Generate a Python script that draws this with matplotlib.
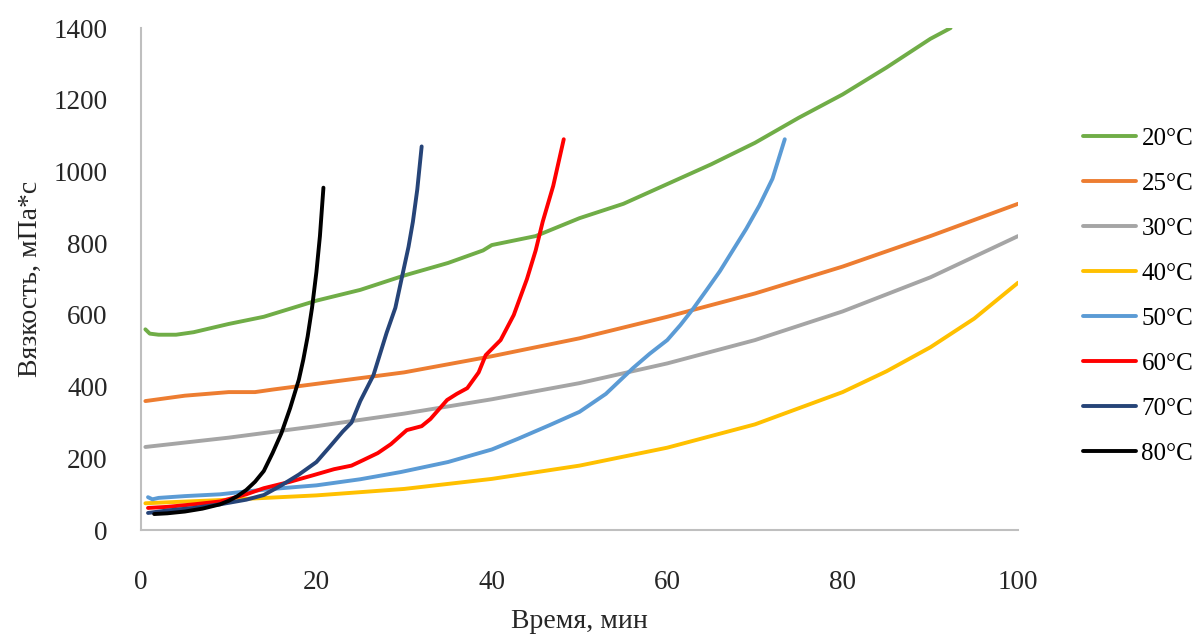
import matplotlib
matplotlib.use("Agg")
import matplotlib.pyplot as plt

plt.rcParams['font.family'] = ['Liberation Serif', 'DejaVu Serif']

# Data (time, min -> viscosity, mPa*s)
x20 = [0.5, 1, 2, 4, 6, 10, 14, 20, 25, 30, 35, 39, 40, 45, 50, 55, 60, 65, 70, 75, 80, 85, 90, 92.3]
y20 = [560, 548, 545, 545, 552, 575, 595, 640, 670, 710, 745, 780, 795, 820, 870, 910, 965, 1020, 1080, 1150, 1215, 1290, 1370, 1400]

x25 = [0.5, 2, 5, 10, 13, 15, 20, 30, 40, 50, 60, 70, 80, 90, 100]
y25 = [360, 365, 375, 385, 385, 392, 408, 440, 485, 535, 595, 660, 735, 820, 910]

x30 = [0.5, 10, 20, 30, 40, 50, 60, 70, 80, 90, 100]
y30 = [232, 258, 290, 325, 365, 410, 465, 530, 610, 705, 820]

x40 = [0.5, 10, 20, 30, 40, 50, 60, 70, 80, 85, 90, 95, 100]
y40 = [75, 85, 97, 115, 143, 180, 230, 295, 385, 443, 510, 590, 690]

x50 = [0.8, 1.3, 2, 5, 9, 12, 15, 20, 25, 29.6, 35, 40, 43, 46.6, 50, 53, 56.1, 58, 60, 61.5,
       63, 64.5, 66, 67.5, 69, 70.5, 72, 73.4]
y50 = [92, 86, 90, 95, 100, 108, 115, 125, 142, 162, 190, 225, 255, 293, 330, 380, 452, 492,
       530, 572, 619, 670, 722, 781, 840, 905, 980, 1090]

x60 = [0.8, 3, 6, 9, 12, 14, 17, 19.6, 22, 24, 25.3, 27, 28.5, 30.3, 32, 33, 34.9, 36, 37.2, 38.5, 39.3, 41, 42.5, 44, 45, 45.8, 47, 48.2]
y60 = [62, 65, 72, 80, 100, 117, 135, 153, 170, 180, 195, 215, 240, 279, 290, 310, 363, 380, 396, 440, 488, 530, 600, 700, 780, 860, 960, 1090]

x70 = [0.8, 3, 6, 9, 12, 14, 16, 18, 20, 21.5, 23, 24, 25, 26.5, 28, 29, 29.8, 30.5, 31, 31.5, 32]
y70 = [48, 55, 62, 72, 85, 98, 125, 155, 190, 232, 275, 300, 360, 432, 550, 620, 711, 790, 860, 950, 1070]

x80 = [1.5, 3, 5, 7, 9, 10, 11, 12, 13, 14, 15, 16, 17, 18, 18.5, 19, 19.5, 20, 20.4, 20.8]
y80 = [45, 47, 52, 60, 72, 82, 95, 112, 135, 165, 215, 270, 340, 420, 475, 540, 620, 720, 820, 955]

series = [
    ("20°C", x20, y20, "#70AD47"),
    ("25°C", x25, y25, "#ED7D31"),
    ("30°C", x30, y30, "#A5A5A5"),
    ("40°C", x40, y40, "#FFC000"),
    ("50°C", x50, y50, "#5B9BD5"),
    ("60°C", x60, y60, "#FF0000"),
    ("70°C", x70, y70, "#264478"),
    ("80°C", x80, y80, "#000000"),
]

fig = plt.figure(figsize=(11.99, 6.38), dpi=100)
ax = fig.add_axes([0.1176, 0.169, 0.7315, 0.787])

for label, xs, ys, color in series:
    ax.plot(xs, ys, color=color, lw=2.8, label=label, solid_capstyle='round')

ax.set_xlim(0, 100)
ax.set_ylim(0, 1400)
ax.set_xticks(range(0, 101, 20))
ax.set_yticks(range(0, 1401, 200))
ax.tick_params(length=0, labelsize=19.5, colors='#262626')
ax.tick_params(axis='x', pad=29)
ax.tick_params(axis='y', pad=24)

for s in ['top', 'right']:
    ax.spines[s].set_visible(False)
for s in ['left', 'bottom']:
    ax.spines[s].set_color('#BFBFBF')
    ax.spines[s].set_linewidth(1.5)

ax.set_xlabel('Время, мин', fontsize=20, color='#262626', labelpad=10)
ax.set_ylabel('Вязкость, мПа*с', fontsize=20, color='#262626', labelpad=8)

ax.legend(loc='upper left', bbox_to_anchor=(0.903, 0.80), bbox_transform=fig.transFigure,
          frameon=False, fontsize=18, handlelength=2.15, handletextpad=0.2,
          labelspacing=0.9, borderpad=0, borderaxespad=0)

fig.savefig('out.png', dpi=100)
